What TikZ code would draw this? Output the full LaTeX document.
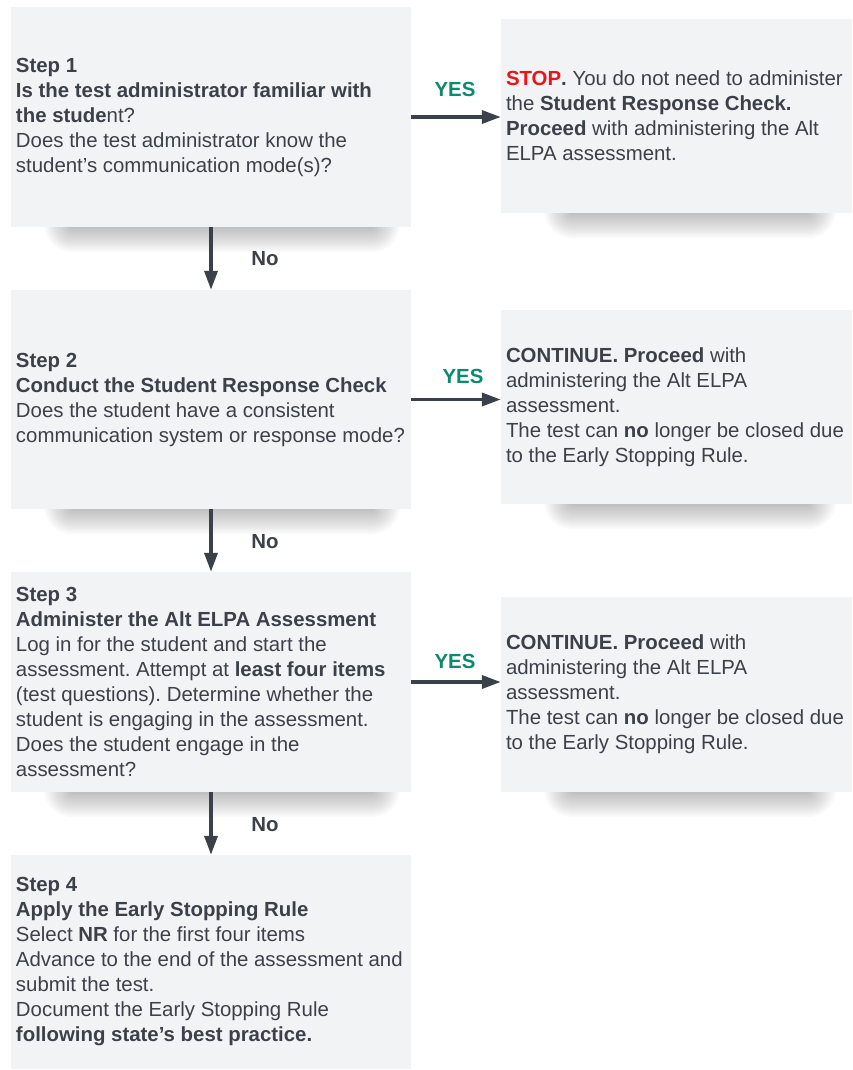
\documentclass[tikz,border=0pt]{standalone}
\usepackage{fontspec}
\setmainfont{Liberation Sans}
\usetikzlibrary{arrows.meta}
\definecolor{txt}{HTML}{3B4049}
\definecolor{boxfill}{HTML}{F2F3F5}
\definecolor{yesgreen}{HTML}{0A8A6E}
\definecolor{stopred}{HTML}{E8161B}
\definecolor{arrowc}{HTML}{3A414B}
\frenchspacing
\newcommand{\myshadow}[3]{% center x, bottom y, half width
  \foreach \k in {1,...,14}{
    \fill[black, opacity=0.019, rounded corners=2*\k pt]
      (#1-#3-2*\k, #2-40) rectangle (#1+#3+2*\k, #2+1.8*\k);
  }}
\tikzset{
  box/.style={rectangle, fill=boxfill, draw=none, inner sep=0pt, minimum width=400pt},
  rbox/.style={box, minimum width=351pt},
  txtnode/.style={anchor=west, align=left, inner sep=0pt, text=txt, font=\fontsize{20.4}{25}\selectfont},
  lbl/.style={inner sep=0pt, font=\fontsize{20.4}{25}\selectfont\bfseries},
  arr/.style={draw=arrowc, line width=3.5pt, -{Triangle[length=19pt,width=13pt]}},
}
\begin{document}
\begin{tikzpicture}[x=1pt,y=-1pt]
\useasboundingbox (0,0) rectangle (852,1070);
% shadows
\myshadow{222}{227}{150}
\myshadow{222}{509}{150}
\myshadow{222}{792}{150}
\myshadow{690}{213}{118}
\myshadow{690}{504}{118}
\myshadow{690}{792}{118}
% left boxes
\node[box, minimum height=220pt] (b1) at (211,117) {};
\node[box, minimum height=219pt] (b2) at (211,399.5) {};
\node[box, minimum height=220pt] (b3) at (211,682) {};
\node[box, minimum height=214pt] (b4) at (211,962) {};
% right boxes
\node[rbox, minimum height=194pt] (r1) at (676.5,116) {};
\node[rbox, minimum height=194pt] (r2) at (676.5,407) {};
\node[rbox, minimum height=195pt] (r3) at (676.5,694.5) {};
% texts
\node[txtnode] (t1) at ([xshift=5pt]b1.west) {\textbf{Step 1}\\
\textbf{Is the test administrator familiar with}\\
\textbf{the stude}nt?\\
Does the test administrator know the\\
student’s communication mode(s)?};
\node[txtnode] (t2) at ([xshift=5pt]b2.west) {\textbf{Step 2}\\
\textbf{Conduct the Student Response Check}\\
Does the student have a consistent\\
communication system or response mode?};
\node[txtnode] (t3) at ([xshift=5pt]b3.west) {\textbf{Step 3}\\
\textbf{Administer the Alt ELPA Assessment}\\
Log in for the student and start the\\
assessment. Attempt at \textbf{least four items}\\
(test questions). Determine whether the\\
student is engaging in the assessment.\\
Does the student engage in the\\
assessment?};
\node[txtnode] (t4) at ([xshift=5pt]b4.west) {\textbf{Step 4}\\
\textbf{Apply the Early Stopping Rule}\\
Select \textbf{NR} for the first four items\\
Advance to the end of the assessment and\\
submit the test.\\
Document the Early Stopping Rule\\
\textbf{following state’s best practice.}};
\node[txtnode] (s1) at ([xshift=5pt]r1.west) {\textcolor{stopred}{\textbf{STOP}}\textbf{.} You do not need to administer\\
the \textbf{Student Response Check.}\\
\textbf{Proceed} with administering the Alt\\
ELPA assessment.};
\node[txtnode] (s2) at ([xshift=5pt]r2.west) {\textbf{CONTINUE. Proceed} with\\
administering the Alt ELPA\\
assessment.\\
The test can \textbf{no} longer be closed due\\
to the Early Stopping Rule.};
\node[txtnode] (s3) at ([xshift=5pt]r3.west) {\textbf{CONTINUE. Proceed} with\\
administering the Alt ELPA\\
assessment.\\
The test can \textbf{no} longer be closed due\\
to the Early Stopping Rule.};
% arrows
\draw[arr] (b1.east) -- (b1.east -| r1.west);
\draw[arr] (b2.east) -- (b2.east -| r2.west);
\draw[arr] (b3.east) -- (b3.east -| r3.west);
\draw[arr] (b1.south) -- (b2.north);
\draw[arr] (b2.south) -- (b3.north);
\draw[arr] (b3.south) -- (b4.north);
% labels
\node[lbl, text=yesgreen] (y1) at (455,89) {YES};
\node[lbl, text=yesgreen] (y2) at (463,376) {YES};
\node[lbl, text=yesgreen] (y3) at (455,661) {YES};
\node[lbl, text=txt] (n1) at (265,259) {No};
\node[lbl, text=txt] (n2) at (265,542) {No};
\node[lbl, text=txt] (n3) at (265,825) {No};
\end{tikzpicture}
\end{document}
